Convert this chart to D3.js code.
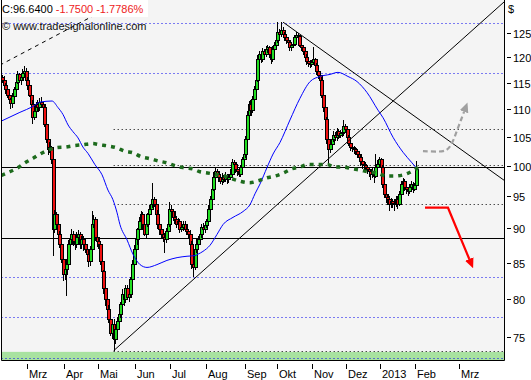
<!DOCTYPE html>
<html><head><meta charset="utf-8">
<script src="https://cdn.jsdelivr.net/npm/d3@7"></script>
<style>
body{margin:0;background:#fff}
svg{display:block}
text{font-family:Arial,"Liberation Sans",sans-serif;font-size:11px}
</style>
</head><body>
<svg id="chart" width="531" height="380"></svg>
<script>
// ---------- DATA ----------
const opens=[116.0,115.5,114.5,113.6,112.6,111.7,111.1,112.3,113.6,115.1,
116.5,115.5,115.9,116.7,117.1,115.5,114.5,112.6,110.8,108.4,
109.5,110.8,110.2,111.3,110.8,110.2,107.1,104.5,102.7,103.1,
101.0,89.8,92.1,90.6,89.1,87.6,85.4,83.3,84.0,84.7,
87.6,88.3,89.1,88.1,87.6,88.6,89.1,87.6,88.3,87.6,
86.9,86.2,85.1,86.9,90.6,91.4,88.6,88.1,87.6,85.1,
83.7,81.3,79.9,78.6,77.3,75.4,76.6,74.7,76.0,77.0,
77.9,79.2,80.6,79.9,81.3,80.2,80.6,82.6,84.7,86.9,
88.3,89.8,91.0,92.1,90.6,89.1,90.6,92.1,92.9,93.7,
94.5,93.7,92.1,90.6,89.8,89.1,88.6,88.3,89.5,90.6,
92.9,92.6,91.7,91.4,90.6,91.0,89.8,90.1,90.6,89.8,
89.5,89.1,87.6,84.7,84.3,86.9,87.6,88.3,89.1,90.1,
89.8,90.4,91.0,92.9,94.5,96.1,98.0,99.0,98.5,98.0,
97.4,98.0,97.7,98.3,97.7,98.0,98.5,100.5,100.2,99.3,
99.0,98.5,99.7,101.0,101.9,104.5,108.9,110.8,109.8,111.7,
113.6,115.5,119.5,120.5,119.5,121.1,120.5,121.5,121.9,120.5,
119.5,121.5,122.5,123.5,125.2,124.6,125.6,124.6,124.0,123.5,
123.1,121.9,122.3,122.7,124.0,124.4,124.2,122.5,121.9,121.1,
119.9,119.1,118.7,118.5,118.9,119.5,118.3,117.1,116.3,115.5,
112.6,110.2,108.0,104.5,102.7,103.6,104.5,105.3,104.8,105.9,
105.2,105.5,105.7,106.8,106.2,104.8,103.9,103.1,102.9,102.7,
102.4,101.9,101.4,100.7,100.2,100.0,99.7,99.3,99.0,98.5,
99.0,98.3,99.7,100.3,101.0,99.7,96.9,95.3,94.8,94.5,
93.7,94.1,93.8,93.7,94.5,93.7,95.3,96.9,97.4,96.4,
96.1,95.7,96.4,96.9,96.1,96.7];
const closes=[115.5,114.5,113.6,112.6,111.7,111.1,112.3,113.6,115.1,116.5,
115.5,115.9,116.7,117.1,115.5,114.5,112.6,110.8,108.4,109.5,
110.8,110.2,111.3,110.8,110.2,107.1,104.5,102.7,103.1,101.0,
89.8,92.1,90.6,89.1,87.6,85.4,83.3,84.0,84.7,87.6,
88.3,89.1,88.1,87.6,88.6,89.1,87.6,88.3,87.6,86.9,
86.2,85.1,86.9,90.6,91.4,88.6,88.1,87.6,85.1,83.7,
81.3,79.9,78.6,77.3,75.4,76.6,74.7,76.0,77.0,77.9,
79.2,80.6,79.9,81.3,80.2,80.6,82.6,84.7,86.9,88.3,
89.8,91.0,92.1,90.6,89.1,90.6,92.1,92.9,93.7,94.5,
93.7,92.1,90.6,89.8,89.1,88.6,88.3,89.5,90.6,92.9,
92.6,91.7,91.4,90.6,91.0,89.8,90.1,90.6,89.8,89.5,
89.1,87.6,84.7,84.3,86.9,87.6,88.3,89.1,90.1,89.8,
90.4,91.0,92.9,94.5,96.1,98.0,99.0,98.5,98.0,97.4,
98.0,97.7,98.3,97.7,98.0,98.5,100.5,100.2,99.3,99.0,
98.5,99.7,101.0,101.9,104.5,108.9,110.8,109.8,111.7,113.6,
115.5,119.5,120.5,119.5,121.1,120.5,121.5,121.9,120.5,119.5,
121.5,122.5,123.5,125.2,124.6,125.6,124.6,124.0,123.5,123.1,
121.9,122.3,122.7,124.0,124.4,124.2,122.5,121.9,121.1,119.9,
119.1,118.7,118.5,118.9,119.5,118.3,117.1,116.3,115.5,112.6,
110.2,108.0,104.5,102.7,103.6,104.5,105.3,104.8,105.9,105.2,
105.5,105.7,106.8,106.2,104.8,103.9,103.1,102.9,102.7,102.4,
101.9,101.4,100.7,100.2,100.0,99.7,99.3,99.0,98.5,99.0,
98.3,99.7,100.3,101.0,99.7,96.9,95.3,94.8,94.5,93.7,
94.1,93.8,93.7,94.5,93.7,95.3,96.9,97.4,96.4,96.1,
95.7,96.4,96.9,96.1,96.7,99.3];
const highs=[116.5,116.3,114.9,114.2,113.5,112.0,113.0,114.1,115.7,117.3,
116.9,116.4,117.6,118.3,117.8,116.0,115.3,113.2,111.7,110.2,
111.3,111.7,112.0,112.2,111.3,111.0,107.5,105.1,104.0,103.4,
101.6,92.9,92.6,91.3,89.6,88.2,85.7,84.6,85.5,88.3,
88.7,89.9,89.6,88.4,89.5,89.7,89.5,88.9,88.8,88.4,
87.3,86.9,87.4,92.7,92.0,91.7,89.2,88.7,88.1,85.9,
84.0,82.0,80.4,79.2,78.2,76.9,77.3,76.5,77.6,78.8,
79.5,81.3,81.1,81.9,81.8,81.4,83.0,85.4,87.5,89.2,
90.1,91.7,92.7,92.5,91.2,91.5,92.4,93.6,94.2,97.2,
94.9,94.0,92.8,91.2,90.7,89.4,89.3,90.0,91.4,94.1,
93.6,93.0,92.5,91.9,91.6,91.4,90.8,91.1,91.2,90.7,
89.8,89.7,88.1,85.3,87.5,88.4,88.9,89.6,90.7,90.9,
91.0,91.5,93.6,95.0,96.7,98.9,99.8,99.5,99.2,98.5,
98.8,98.4,98.9,98.7,98.6,99.4,101.2,100.9,100.6,99.8,
99.4,100.2,101.5,102.7,105.1,109.6,111.5,111.6,112.4,114.3,
116.3,120.5,121.2,121.0,121.9,121.6,122.4,122.6,122.3,121.1,
122.2,123.2,124.1,127.3,125.9,127.3,126.2,125.2,124.5,124.1,
123.5,122.9,123.4,124.6,125.2,125.0,124.6,123.0,122.4,121.5,
120.6,119.6,119.4,119.5,122.1,119.9,118.8,117.6,116.8,116.0,
113.1,110.7,108.5,105.0,104.4,105.2,106.0,105.9,106.6,106.3,
106.2,106.3,108.0,107.3,106.6,105.3,104.4,103.7,103.4,103.2,
102.9,102.3,101.8,101.2,100.8,100.6,100.2,99.8,99.5,99.6,
99.4,102.0,100.9,101.5,101.3,100.1,97.4,95.9,95.4,95.0,
94.8,94.6,94.5,95.1,95.0,95.8,97.5,98.0,97.8,96.9,
96.5,97.0,97.4,97.3,97.2,100.8];
const lows=[114.9,114.1,112.8,112.1,111.4,110.0,110.2,111.8,113.2,114.8,
114.9,114.6,115.4,116.2,115.0,113.6,112.2,110.3,107.3,108.0,
108.9,109.5,109.7,110.3,109.4,106.7,103.9,101.9,102.2,100.3,
85.9,89.3,90.0,88.3,87.1,84.9,82.4,82.6,80.4,84.2,
87.0,87.7,87.4,86.8,87.1,88.1,87.0,86.9,86.7,86.3,
85.8,84.4,84.5,86.5,90.0,88.1,87.3,86.9,84.6,83.4,
80.6,79.0,78.1,76.8,75.1,74.7,73.25,74.1,75.6,76.5,
77.4,78.5,79.0,79.4,79.8,79.6,80.2,82.0,84.2,86.3,
87.6,89.4,90.6,89.8,88.8,88.6,90.2,91.5,92.5,93.1,
93.3,91.6,89.9,89.0,88.4,88.0,86.4,87.9,89.1,90.3,
92.0,91.2,90.7,90.1,90.3,89.3,89.4,89.6,89.4,89.0,
88.4,87.1,84.1,83.0,84.0,86.4,87.1,87.8,88.6,89.2,
89.3,90.0,90.5,92.4,94.1,95.8,97.5,97.9,97.3,97.0,
96.9,97.2,97.3,97.0,97.2,97.6,98.2,99.7,98.8,98.3,
98.1,98.1,99.3,100.6,101.4,104.2,108.3,109.0,109.3,111.2,
113.0,115.1,118.9,118.8,119.1,119.8,120.0,120.9,119.9,118.6,
119.0,121.0,122.0,123.0,124.0,124.1,124.0,123.3,122.8,122.4,
121.2,121.3,121.8,122.2,123.5,123.6,122.0,121.3,120.5,119.3,
118.4,118.0,117.8,118.0,118.4,117.6,116.5,115.7,114.8,112.0,
109.5,107.4,103.8,100.2,102.2,103.1,104.0,104.2,104.3,104.6,
104.7,105.0,105.2,105.7,104.2,103.3,102.5,102.3,102.0,101.8,
101.3,100.8,100.0,99.4,99.3,99.0,98.6,98.2,97.6,98.0,
97.2,98.0,99.2,99.8,99.1,96.3,94.8,94.0,93.6,92.7,
93.2,93.1,92.7,93.3,93.0,93.4,95.0,96.4,95.9,95.4,
95.1,95.3,96.0,95.6,95.8,96.4];

// moving averages (bar index, price)
const maBlueIdx=[-1,10,17.8,21.9,29,32.5,35.5,38.5,41.4,44.4,47.3,50.3,54.4,58.6,62.1,65,67.5,69.2,73.4,76.9,81.1,85.2,91.1,97,103,108.9,113.6,115.4,118.3,122.5,126.6,130.2,136.1,142,146.2,149.1,152.1,156.2,159.8,163.9,169.8,175.7,181.7,187.6,193.5,198.2,204.1,209.5,215.4,221.9,224.9,230.8,236.7,242,245.6];
const maBlue=[107.8,109.4,110.5,111.3,111.5,110.3,109.0,107.1,105.9,104.8,103.2,102.1,100.2,98.5,96.0,94.5,92.4,90.6,88.3,86.2,84.7,84.3,84.7,85.3,85.7,85.9,86.0,86.2,86.6,87.5,89.1,90.6,91.7,92.6,93.7,95.4,97.0,99.7,102.0,104.0,108.0,112.0,115.2,116.2,116.6,117.0,116.2,115.2,113.1,109.8,108.4,104.9,102.3,100.5,99.3];
const maGreenIdx=[-1,4,9,13,18,22,27,32,37,41,47,53,57,62,67,72,77,82,87,92,97,102,106.5,112,116.6,121,127,131,136,141,146,151,156,161,166,171,176,180,186,192,196,201,206.5,211,216,221,227,232,237,240,242.6,245.6];
const maGreen=[98.4,99.0,99.7,100.5,101.3,102.0,102.7,103.1,103.2,103.4,103.6,103.8,103.6,103.4,103.1,102.5,102.2,101.5,101.2,100.8,100.5,100.0,99.7,99.5,99.0,98.8,98.5,98.3,97.8,97.4,97.2,97.5,98.0,98.3,98.8,99.5,99.8,100.2,100.2,100.2,99.8,99.8,99.5,99.3,99.0,98.8,98.3,98.3,98.5,98.8,99.2,99.7];

// horizontal levels
const levelsBlueDotted=[127.1,116.9,82.9,77.5,72.4];
const levelsBlackDotted=[106.4,100.2,93.8,73.25];
const levelsBlackSolid=[99.8,88.6];
const levelStartIdx=65.5;
const bandTopPrice=73.15;

// trend lines (bar index, price)
const trendUpIdx=[65.5,296.5], trendUpPx=[73.3,131.7];
const trendDownIdx=[165.7,297.5], trendDownPx=[127.3,97.4];
const trendDashIdx=[-2,74], trendDashPx=[118.4,132.7];

// projection arrows (bar index, price)
const arrowUpIdx=[248.5,260.4,263.3,266.3,268.6,271,272.8];
const arrowUpPx=[102.5,102.5,102.9,104.3,106.1,108.0,109.5];
const arrowDnIdx=[249.7,263.3,275.9];
const arrowDnPx=[93.2,93.2,85.5];

// axes
const monthIdx=[14,36,56,78,99,120,143,162,183,203,223,244,270];
const monthLabels=["Mrz","Apr","Mai","Jun","Jul","Aug","Sep","Okt","Nov","Dez","2013","Feb","Mrz"];
const yTicks=[75,80,85,90,95,100,105,110,115,120,125];
const headerClose="C:96.6400", headerChange=" -1.7500 -1.7786%";
const copyright="\u00A9 www.tradesignalonline.com";

// ---------- DRAW ----------
const L=1.5,R=504.5,T=0,B=360.5;
const svg=d3.select("#chart");
const x=d3.scaleLinear().domain([0,296]).range([3,3+1.69*296]);
const y=d3.scaleLog().domain([75,125]).range([337,33]);

const defs=svg.append("defs");
defs.append("clipPath").attr("id","clip").append("rect")
  .attr("x",2).attr("y",0).attr("width",R-2).attr("height",B);
function marker(id,color){
  defs.append("marker").attr("id",id).attr("viewBox","0 -5 10 10")
    .attr("refX",0).attr("refY",0).attr("markerWidth",10).attr("markerHeight",10)
    .attr("markerUnits","userSpaceOnUse").attr("orient","auto")
    .append("path").attr("d","M0,-4.5L10,0L0,4.5Z").attr("fill",color);
}
marker("mGray","#a0a0a0");
marker("mRed","#ff0000");

svg.append("rect").attr("x",L).attr("y",T).attr("width",R-L).attr("height",B-T).attr("fill","#f4f4f4");

const g=svg.append("g").attr("clip-path","url(#clip)");
// green band
g.append("rect").attr("x",L).attr("y",y(bandTopPrice)).attr("width",R-L).attr("height",B-y(bandTopPrice)).attr("fill","#a8e2a0");

// horizontal levels
const hl=(v)=>Math.round(y(v))+0.5;
g.selectAll(".lb").data(levelsBlueDotted).join("line")
  .attr("x1",L).attr("x2",R).attr("y1",hl).attr("y2",hl)
  .attr("stroke","#0000ee").attr("stroke-width",1).attr("stroke-dasharray","1,3");
g.selectAll(".lk").data(levelsBlackDotted).join("line")
  .attr("x1",x(levelStartIdx)).attr("x2",R).attr("y1",hl).attr("y2",hl)
  .attr("stroke","#000").attr("stroke-width",1).attr("stroke-dasharray","1,3");
g.selectAll(".ls").data(levelsBlackSolid).join("line")
  .attr("x1",L).attr("x2",R).attr("y1",hl).attr("y2",hl)
  .attr("stroke","#000").attr("stroke-width",1.2);

// candles
const idx=d3.range(closes.length);
const cg=g.append("g").attr("shape-rendering","crispEdges");
idx.forEach(i=>{
  const cx=Math.round(x(i));
  const o=opens[i],c=closes[i];
  cg.append("line").attr("x1",cx-0.5).attr("x2",cx-0.5)
    .attr("y1",y(highs[i])).attr("y2",y(lows[i])).attr("stroke","#000");
  const top=y(Math.max(o,c)),bot=y(Math.min(o,c));
  cg.append("rect").attr("x",cx-1.5).attr("width",3)
    .attr("y",top).attr("height",Math.max(1,bot-top))
    .attr("fill",c>=o?"#22dd22":"#ee1111").attr("stroke","#000").attr("stroke-width",1);
});

// trend lines
const seg=(xi,pv)=>d3.line()(xi.map((d,k)=>[x(d),y(pv[k])]));
g.append("path").attr("d",seg(trendUpIdx,trendUpPx)).attr("stroke","#000").attr("fill","none").attr("stroke-width",1);
g.append("path").attr("d",seg(trendDownIdx,trendDownPx)).attr("stroke","#000").attr("fill","none").attr("stroke-width",1);
g.append("path").attr("d",seg(trendDashIdx,trendDashPx)).attr("stroke","#000").attr("fill","none").attr("stroke-width",1).attr("stroke-dasharray","4,4");

// moving averages
const ln=d3.line().curve(d3.curveMonotoneX);
g.append("path").attr("d",ln(maBlueIdx.map((d,k)=>[x(d),y(maBlue[k])])))
  .attr("fill","none").attr("stroke","#0000ff").attr("stroke-width",1);
g.append("path").attr("d",ln(maGreenIdx.map((d,k)=>[x(d),y(maGreen[k])])))
  .attr("fill","none").attr("stroke","#1d6b1d").attr("stroke-width",3.5).attr("stroke-dasharray","4,5");

// arrows
g.append("path").attr("d",d3.line().curve(d3.curveCatmullRom)(arrowUpIdx.map((d,k)=>[x(d),y(arrowUpPx[k])])))
  .attr("fill","none").attr("stroke","#a0a0a0").attr("stroke-width",2.2).attr("stroke-dasharray","5,3")
  .attr("marker-end","url(#mGray)");
g.append("path").attr("d",seg(arrowDnIdx,arrowDnPx))
  .attr("fill","none").attr("stroke","#ff0000").attr("stroke-width",2.2)
  .attr("marker-end","url(#mRed)");

// header
svg.append("rect").attr("x",0).attr("y",0).attr("width",148).attr("height",17).attr("fill","#fff");
const ht=svg.append("text").attr("x",2).attr("y",13);
ht.append("tspan").attr("fill","#000").text(headerClose);
ht.append("tspan").attr("fill","#ee2222").text(headerChange);
svg.append("text").attr("x",2).attr("y",29.5).attr("fill","#111").text(copyright);

// border
svg.append("path").attr("d",`M${L},${T}V${B}H${R}V${T}`).attr("fill","none").attr("stroke","#000").attr("stroke-width",1);

// y axis
const ya=svg.append("g");
yTicks.forEach(v=>{
  const yy=Math.round(y(v))+0.5;
  ya.append("line").attr("x1",507).attr("x2",511).attr("y1",yy).attr("y2",yy).attr("stroke","#000");
  ya.append("text").attr("x",513).attr("y",yy+4).attr("fill","#000").text(v);
});
ya.append("text").attr("x",508).attr("y",13).attr("fill","#000").text("$");

// x axis
const xa=svg.append("g");
monthIdx.forEach((m,k)=>{
  const xx=Math.round(x(m))+0.5;
  xa.append("line").attr("x1",xx).attr("x2",xx).attr("y1",364).attr("y2",369).attr("stroke","#000");
  xa.append("text").attr("x",xx+1.5).attr("y",378).attr("fill","#000").text(monthLabels[k]);
});
</script>
</body></html>
